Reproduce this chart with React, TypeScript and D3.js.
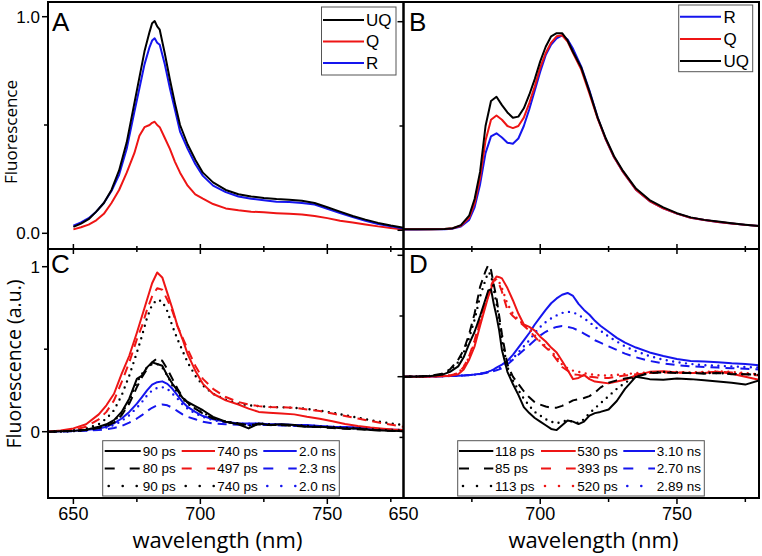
import React from "react";
import * as d3 from "d3";

// ---------- Panel A data ----------
const wlA = [650,653,656,659,662,665,668,671,674,676,678,680,681,682,683,684,686,688,690,692,695,698,701,705,710,715,720,725,730,735,740,745,750,755,760,765,770,775,780];
const aUQ = [0.03,0.045,0.065,0.1,0.14,0.2,0.29,0.42,0.6,0.72,0.84,0.93,0.97,0.98,0.955,0.94,0.83,0.71,0.6,0.5,0.41,0.34,0.28,0.235,0.2,0.18,0.17,0.163,0.158,0.155,0.15,0.14,0.12,0.1,0.08,0.063,0.048,0.036,0.026];
const aQ = [0.018,0.028,0.04,0.06,0.09,0.14,0.2,0.28,0.37,0.45,0.49,0.5,0.51,0.515,0.5,0.49,0.44,0.39,0.33,0.28,0.22,0.18,0.16,0.135,0.115,0.106,0.1,0.097,0.093,0.09,0.087,0.08,0.07,0.058,0.05,0.041,0.032,0.025,0.018];
const aR = [0.035,0.05,0.07,0.1,0.14,0.195,0.27,0.39,0.56,0.67,0.78,0.86,0.89,0.9,0.88,0.87,0.78,0.67,0.57,0.47,0.39,0.32,0.265,0.22,0.19,0.17,0.16,0.153,0.146,0.145,0.14,0.133,0.113,0.094,0.075,0.058,0.043,0.032,0.022];

// ---------- Panel B data ----------
const wlB = [650,655,660,665,668,671,674,676,678,680,682,684,686,688,690,692,694,696,698,700,702,704,706,708,710,712,715,718,721,724,727,730,735,740,745,750,755,760,765,770,775,780];
const bUQ = [0.005,0.005,0.005,0.006,0.01,0.025,0.07,0.15,0.28,0.5,0.62,0.64,0.6,0.565,0.54,0.545,0.585,0.65,0.725,0.81,0.88,0.93,0.945,0.945,0.91,0.855,0.78,0.665,0.54,0.44,0.355,0.29,0.2,0.145,0.11,0.082,0.062,0.05,0.042,0.034,0.027,0.021];
const bQ = [0.005,0.005,0.005,0.006,0.01,0.022,0.06,0.13,0.25,0.43,0.53,0.55,0.53,0.5,0.49,0.5,0.54,0.61,0.69,0.78,0.85,0.9,0.93,0.935,0.905,0.85,0.77,0.655,0.535,0.435,0.35,0.285,0.195,0.14,0.105,0.08,0.06,0.049,0.04,0.033,0.026,0.02];
const bR = [0.004,0.004,0.005,0.005,0.008,0.018,0.05,0.11,0.22,0.37,0.45,0.465,0.445,0.42,0.415,0.44,0.5,0.58,0.67,0.76,0.84,0.89,0.92,0.935,0.915,0.87,0.785,0.67,0.54,0.435,0.35,0.285,0.195,0.14,0.105,0.08,0.06,0.049,0.04,0.033,0.026,0.02];

// ---------- Panel C data ----------
const wlC = [640,645,650,655,660,663,666,669,672,675,677,679,681,683,685,687,689,691,693,695,698,701,705,710,715,719,723,727,732,737,742,747,752,757,762,767,772,776,780];
const cK1 = [0,0.002,0.005,0.012,0.03,0.045,0.07,0.12,0.2,0.32,0.34,0.39,0.42,0.41,0.4,0.34,0.29,0.25,0.205,0.18,0.155,0.13,0.09,0.06,0.045,0.02,0.05,0.04,0.045,0.04,0.03,0.03,0.025,0.02,0.02,0.01,0.008,0.005,0.003];
const cK2 = [0,0.002,0.004,0.01,0.022,0.035,0.055,0.1,0.17,0.27,0.33,0.38,0.42,0.445,0.43,0.38,0.32,0.26,0.21,0.175,0.14,0.11,0.08,0.06,0.05,0.04,0.045,0.04,0.04,0.035,0.03,0.028,0.022,0.018,0.015,0.01,0.006,0.004,0.002];
const cK3 = [0,0.002,0.004,0.01,0.025,0.04,0.065,0.11,0.19,0.3,0.35,0.39,0.41,0.41,0.39,0.34,0.28,0.24,0.2,0.17,0.14,0.115,0.085,0.06,0.05,0.035,0.05,0.045,0.04,0.04,0.035,0.03,0.028,0.024,0.02,0.015,0.01,0.008,0.006];
const cR1 = [0,0.008,0.02,0.045,0.105,0.16,0.23,0.35,0.46,0.6,0.7,0.8,0.9,0.965,0.935,0.84,0.745,0.64,0.56,0.47,0.37,0.29,0.23,0.19,0.165,0.14,0.12,0.115,0.11,0.105,0.09,0.078,0.063,0.047,0.034,0.025,0.018,0.013,0.01];
const cR2 = [0,0.005,0.012,0.03,0.075,0.12,0.19,0.3,0.42,0.56,0.64,0.74,0.82,0.87,0.86,0.8,0.73,0.64,0.57,0.5,0.4,0.32,0.26,0.21,0.18,0.165,0.155,0.15,0.148,0.145,0.135,0.125,0.11,0.095,0.08,0.065,0.05,0.04,0.03];
const cR3 = [0,0.003,0.008,0.02,0.045,0.08,0.13,0.22,0.34,0.48,0.58,0.69,0.77,0.8,0.79,0.73,0.64,0.56,0.49,0.42,0.34,0.28,0.23,0.195,0.17,0.16,0.155,0.15,0.148,0.145,0.138,0.128,0.115,0.1,0.085,0.07,0.058,0.048,0.04];
const cB1 = [0,0.002,0.005,0.01,0.02,0.03,0.05,0.08,0.12,0.17,0.21,0.25,0.285,0.3,0.305,0.29,0.26,0.22,0.18,0.15,0.12,0.095,0.075,0.06,0.05,0.05,0.05,0.045,0.045,0.04,0.04,0.035,0.03,0.028,0.025,0.02,0.015,0.012,0.01];
const cB2 = [0,0.001,0.003,0.006,0.01,0.015,0.022,0.035,0.055,0.08,0.1,0.125,0.145,0.16,0.165,0.16,0.145,0.125,0.105,0.09,0.075,0.06,0.05,0.045,0.042,0.04,0.04,0.04,0.038,0.035,0.033,0.03,0.027,0.024,0.02,0.016,0.012,0.01,0.008];
const cB3 = [0,0.002,0.004,0.008,0.016,0.025,0.04,0.065,0.1,0.145,0.18,0.22,0.25,0.265,0.27,0.26,0.23,0.2,0.165,0.14,0.11,0.09,0.07,0.058,0.05,0.048,0.048,0.045,0.043,0.04,0.038,0.034,0.03,0.027,0.024,0.02,0.015,0.012,0.01];

// ---------- Panel D data ----------
const wlD = [650,655,660,664,667,670,672,674,676,678,680,681,682,683,684,685,686,688,690,692,694,696,698,700,702,704,706,708,710,712,714,716,718,720,722,725,728,731,735,740,745,750,755,760,765,770,775,780];
const dK1 = [0,0.002,0.005,0.015,0.04,0.085,0.16,0.27,0.37,0.5,0.64,0.71,0.72,0.6,0.5,0.38,0.22,0.04,-0.06,-0.15,-0.25,-0.3,-0.34,-0.37,-0.4,-0.43,-0.44,-0.4,-0.36,-0.37,-0.39,-0.37,-0.32,-0.3,-0.29,-0.27,-0.2,-0.1,0,-0.02,-0.025,-0.015,-0.02,-0.03,-0.04,-0.05,-0.065,-0.03];
const dK2 = [0,0.002,0.008,0.025,0.06,0.14,0.22,0.35,0.52,0.74,0.87,0.92,0.88,0.76,0.65,0.5,0.35,0.1,0,-0.06,-0.12,-0.17,-0.21,-0.23,-0.245,-0.255,-0.255,-0.24,-0.22,-0.195,-0.185,-0.175,-0.16,-0.13,-0.09,-0.05,-0.03,-0.015,0,0.03,0.035,0.03,0.03,0.025,0.03,0.02,0.02,0.015];
const dK3 = [0,0.002,0.007,0.02,0.05,0.12,0.2,0.32,0.47,0.66,0.8,0.86,0.84,0.72,0.6,0.46,0.3,0.08,-0.03,-0.11,-0.18,-0.24,-0.29,-0.32,-0.35,-0.37,-0.385,-0.37,-0.36,-0.37,-0.38,-0.35,-0.3,-0.26,-0.22,-0.16,-0.1,-0.05,0,0.035,0.04,0.035,0.03,0.03,0.03,0.025,0.02,0.02];
const dR1 = [0,0,0.002,0.004,0.008,0.02,0.06,0.14,0.25,0.42,0.58,0.66,0.72,0.79,0.825,0.82,0.81,0.73,0.63,0.52,0.43,0.41,0.38,0.33,0.29,0.24,0.2,0.13,0.055,-0.02,-0.01,0.015,-0.02,-0.04,-0.045,-0.055,-0.04,-0.025,0.01,0.04,0.045,0.035,0.03,0.03,0.04,0.025,0,-0.025];
const dR2 = [0,0,0.002,0.005,0.01,0.03,0.08,0.17,0.3,0.47,0.62,0.7,0.75,0.8,0.8,0.76,0.7,0.55,0.5,0.46,0.42,0.38,0.33,0.28,0.24,0.2,0.14,0.08,0.05,0.02,0.015,0.005,0,-0.005,-0.01,-0.01,0,0.01,0.02,0.03,0.035,0.035,0.03,0.035,0.04,0.035,0.02,0.01];
const dR3 = [0,0,0.002,0.005,0.01,0.03,0.08,0.16,0.28,0.45,0.6,0.68,0.74,0.79,0.8,0.78,0.73,0.6,0.52,0.47,0.43,0.39,0.34,0.29,0.25,0.21,0.16,0.1,0.07,0.05,0.04,0.03,0.02,0.015,0.01,0.01,0.015,0.02,0.03,0.035,0.04,0.04,0.035,0.04,0.045,0.04,0.03,0.02];
const dB1 = [0,0,0.002,0.004,0.006,0.008,0.01,0.013,0.018,0.025,0.035,0.042,0.05,0.06,0.075,0.088,0.1,0.13,0.18,0.24,0.3,0.36,0.43,0.49,0.55,0.605,0.645,0.675,0.69,0.665,0.6,0.55,0.51,0.46,0.42,0.37,0.32,0.28,0.24,0.2,0.17,0.145,0.13,0.125,0.12,0.11,0.105,0.095];
const dB2 = [0,0,0.002,0.004,0.006,0.008,0.01,0.013,0.017,0.022,0.03,0.035,0.04,0.046,0.053,0.06,0.07,0.1,0.14,0.18,0.22,0.26,0.3,0.34,0.37,0.395,0.41,0.418,0.41,0.4,0.38,0.355,0.33,0.3,0.28,0.25,0.22,0.19,0.16,0.13,0.11,0.095,0.085,0.08,0.075,0.07,0.065,0.06];
const dB3 = [0,0,0.002,0.004,0.006,0.008,0.01,0.013,0.017,0.023,0.032,0.038,0.045,0.052,0.06,0.07,0.08,0.11,0.15,0.2,0.25,0.3,0.36,0.41,0.45,0.48,0.505,0.525,0.535,0.53,0.51,0.48,0.45,0.41,0.38,0.33,0.29,0.25,0.21,0.17,0.14,0.12,0.105,0.095,0.09,0.085,0.08,0.075];

// ---------- labels ----------
const legendA = ["UQ", "Q", "R"];
const legendB = ["R", "Q", "UQ"];
const legendC = [["90 ps", "740 ps", "2.0 ns"], ["80 ps", "497 ps", "2.3 ns"], ["90 ps", "740 ps", "2.0 ns"]];
const legendD = [["118 ps", "530 ps", "3.10 ns"], ["85 ps", "393 ps", "2.70 ns"], ["113 ps", "520 ps", "2.89 ns"]];
const xTickLabels = [650, 700, 750];
const xMinorTicks = [675, 725, 775];

const BLACK = "#000000";
const RED = "#ee1515";
const BLUE = "#1515ee";

// layout
const L = 48, M = 403.5, R = 759, T = 2, MY = 249, BOT = 498;

const xAC = d3.scaleLinear().domain([640, 780]).range([L, M]);
const xBD = d3.scaleLinear().domain([650, 780]).range([M, R]);
const yA = d3.scaleLinear().domain([0, 1]).range([233.3, 16.7]);
const yB = d3.scaleLinear().domain([0, 1]).range([230.3, 21.7]);
const yC = d3.scaleLinear().domain([0, 1]).range([431.7, 266.7]);
const yD = d3.scaleLinear().domain([0, 1]).range([376.7, 255.3]);

type Dash = "solid" | "dash" | "dot";
const dashArr = (d: Dash) => (d === "dash" ? "9 6" : d === "dot" ? "0 6.5" : undefined);
const legDash = (d: Dash) => (d === "dash" ? "10 15" : d === "dot" ? "0 14" : undefined);

function Curve({ xs, ys, sx, sy, color, dash, clip }: any) {
  const gen = d3.line<number>().x((_, i) => sx(xs[i])).y((v) => sy(v));
  return (
    <path d={gen(ys) || ""} fill="none" stroke={color} strokeWidth={dash === "dot" ? 2.4 : 2}
      strokeDasharray={dashArr(dash)} strokeLinecap={dash === "dot" ? "round" : "butt"}
      strokeLinejoin="round" clipPath={`url(#${clip})`} />
  );
}

const tickFont = "'Liberation Sans', Arial, sans-serif";
const titleFont = "'Open Sans', 'Noto Sans', sans-serif";

export default function App() {
  const colors = [BLACK, RED, BLUE];
  const dashes: Dash[] = ["solid", "dash", "dot"];
  const cSeries = [[cK1, cR1, cB1], [cK2, cR2, cB2], [cK3, cR3, cB3]];
  const cColors = [[BLACK, RED, BLUE], [BLACK, RED, BLUE], [BLACK, BLACK, BLUE]];
  const dSeries = [[dK1, dR1, dB1], [dK2, dR2, dB2], [dK3, dR3, dB3]];

  const legCx = [[104.7, 140.7, 142.7], [181.7, 215, 217.3], [263.3, 296.7, 299]];
  const legDx = [[459, 493.3, 495], [541, 575.7, 577.3], [623.3, 655, 656.7]];
  const legRows = [451, 468.5, 486];

  const yTicks = (sy: any, x: number, vals: number[], major: number[]) =>
    vals.map((v) => (
      <line key={`yt${x}${v}`} x1={x - (major.includes(v) ? 6 : 4)} x2={x} y1={sy(v)} y2={sy(v)} stroke="#000" strokeWidth={1.5} />
    ));

  return (
    <svg width={762} height={556} style={{ position: "absolute", left: 0, top: 0, background: "#fff" }}
      fontFamily={tickFont}>
      <defs>
        <clipPath id="clipA"><rect x={L} y={T} width={M - L} height={MY - T} /></clipPath>
        <clipPath id="clipB"><rect x={M} y={T} width={R - M} height={MY - T} /></clipPath>
        <clipPath id="clipC"><rect x={L} y={MY} width={M - L} height={BOT - MY} /></clipPath>
        <clipPath id="clipD"><rect x={M} y={MY} width={R - M} height={BOT - MY} /></clipPath>
      </defs>
      <rect x={0} y={0} width={762} height={556} fill="#fff" />

      {/* Panel A curves */}
      <Curve xs={wlA} ys={aQ} sx={xAC} sy={yA} color={RED} dash="solid" clip="clipA" />
      <Curve xs={wlA} ys={aR} sx={xAC} sy={yA} color={BLUE} dash="solid" clip="clipA" />
      <Curve xs={wlA} ys={aUQ} sx={xAC} sy={yA} color={BLACK} dash="solid" clip="clipA" />

      {/* Panel B curves */}
      <Curve xs={wlB} ys={bR} sx={xBD} sy={yB} color={BLUE} dash="solid" clip="clipB" />
      <Curve xs={wlB} ys={bQ} sx={xBD} sy={yB} color={RED} dash="solid" clip="clipB" />
      <Curve xs={wlB} ys={bUQ} sx={xBD} sy={yB} color={BLACK} dash="solid" clip="clipB" />

      {/* Panel C curves */}
      {[2, 1, 0].map((col) => [2, 1, 0].map((row) => (
        <Curve key={`c${row}${col}`} xs={wlC} ys={cSeries[row][col]} sx={xAC} sy={yC}
          color={cColors[row][col]} dash={dashes[row]} clip="clipC" />
      )))}

      {/* Panel D curves */}
      {[2, 1, 0].map((col) => [2, 1, 0].map((row) => (
        <Curve key={`d${row}${col}`} xs={wlD} ys={dSeries[row][col]} sx={xBD} sy={yD}
          color={colors[col]} dash={dashes[row]} clip="clipD" />
      )))}

      {/* Frames */}
      <g fill="none" stroke="#000" strokeWidth={2}>
        <rect x={L} y={T} width={M - L} height={MY - T} />
        <rect x={M} y={T} width={R - M} height={MY - T} />
        <rect x={L} y={MY} width={M - L} height={BOT - MY} />
        <rect x={M} y={MY} width={R - M} height={BOT - MY} />
      </g>

      {/* x ticks on shared border and bottom */}
      {xTickLabels.map((v) => (
        <g key={`xt${v}`} stroke="#000" strokeWidth={1.5}>
          <line x1={xAC(v)} x2={xAC(v)} y1={MY - 5} y2={MY + 5} />
          <line x1={xAC(v)} x2={xAC(v)} y1={BOT} y2={BOT + 6} />
          {v > 650 && <line x1={xBD(v)} x2={xBD(v)} y1={MY - 5} y2={MY + 5} />}
          {v > 650 && <line x1={xBD(v)} x2={xBD(v)} y1={BOT} y2={BOT + 6} />}
        </g>
      ))}
      {xMinorTicks.map((v) => (
        <g key={`xm${v}`} stroke="#000" strokeWidth={1.5}>
          <line x1={xAC(v)} x2={xAC(v)} y1={MY - 3} y2={MY + 3} />
          <line x1={xAC(v)} x2={xAC(v)} y1={BOT} y2={BOT + 4} />
          <line x1={xBD(v)} x2={xBD(v)} y1={MY - 3} y2={MY + 3} />
          <line x1={xBD(v)} x2={xBD(v)} y1={BOT} y2={BOT + 4} />
        </g>
      ))}
      {/* x tick labels */}
      {xTickLabels.map((v) => (
        <g key={`xl${v}`} fontSize={18} textAnchor="middle">
          <text x={xAC(v)} y={520}>{v}</text>
          <text x={xBD(v)} y={520}>{v}</text>
        </g>
      ))}

      {/* y ticks */}
      {yTicks(yA, L, [0, 0.5, 1], [0, 1])}
      {yTicks(yB, M, [0, 0.5, 1], [0, 1])}
      {yTicks(yC, L, [0, 0.5, 1], [0, 1])}
      {yTicks(yD, M, [-0.5, 0, 0.5, 1], [0, 1])}
      <g fontSize={17} textAnchor="end">
        <text x={40} y={yA(1) + 6}>1.0</text>
        <text x={40} y={yA(0) + 6}>0.0</text>
        <text x={40} y={yC(1) + 6}>1</text>
        <text x={40} y={yC(0) + 6}>0</text>
      </g>

      {/* Panel letters */}
      <g fontSize={26}>
        <text x={52} y={31}>A</text>
        <text x={409} y={31}>B</text>
        <text x={51} y={273}>C</text>
        <text x={409} y={273}>D</text>
      </g>

      {/* Axis titles */}
      <g fontFamily={titleFont} fill="#000">
        <text transform="translate(16.5,132) rotate(-90)" fontSize={17} textAnchor="middle">Fluorescence</text>
        <text transform="translate(21,364) rotate(-90)" fontSize={19.5} textAnchor="middle">Fluorescence (a.u.)</text>
        <text x={217.5} y={548} fontSize={22} textAnchor="middle">wavelength (nm)</text>
        <text x={593.5} y={548} fontSize={22} textAnchor="middle">wavelength (nm)</text>
      </g>

      {/* Legend A */}
      <rect x={321.5} y={7} width={74.5} height={68} fill="#fff" stroke="#555" strokeWidth={1} />
      {legendA.map((lab, i) => {
        const y = 20 + i * 21.5;
        const c = [BLACK, RED, BLUE][i];
        return (
          <g key={`la${i}`}>
            <line x1={323} x2={364} y1={y} y2={y} stroke={c} strokeWidth={2} />
            <text x={366} y={y} dy="0.35em" fontSize={17}>{lab}</text>
          </g>
        );
      })}

      {/* Legend B */}
      <rect x={678.7} y={5} width={74} height={66.7} fill="#fff" stroke="#555" strokeWidth={1} />
      {legendB.map((lab, i) => {
        const y = 16.7 + i * 22.2;
        const c = [BLUE, RED, BLACK][i];
        return (
          <g key={`lb${i}`}>
            <line x1={680} x2={721} y1={y} y2={y} stroke={c} strokeWidth={2} />
            <text x={723.5} y={y} dy="0.35em" fontSize={17}>{lab}</text>
          </g>
        );
      })}

      {/* Legend C */}
      <rect x={102.7} y={440.7} width={236.6} height={55.3} fill="#fff" stroke="#555" strokeWidth={1} />
      {legendC.map((row, r) => row.map((lab, c) => (
        <g key={`lc${r}${c}`}>
          <line x1={legCx[c][0]} x2={legCx[c][1]} y1={legRows[r]} y2={legRows[r]} stroke={cColors[r][c]}
            strokeWidth={dashes[r] === "dot" ? 2.6 : 2} strokeDasharray={legDash(dashes[r])}
            strokeDashoffset={dashes[r] === "dot" ? -4 : 0}
            strokeLinecap={dashes[r] === "dot" ? "round" : "butt"} />
          <text x={legCx[c][2]} y={legRows[r]} dy="0.35em" fontSize={13.5}>{lab}</text>
        </g>
      )))}

      {/* Legend D */}
      <rect x={457.7} y={440.7} width={246.6} height={55.3} fill="#fff" stroke="#555" strokeWidth={1} />
      {legendD.map((row, r) => row.map((lab, c) => (
        <g key={`ld${r}${c}`}>
          <line x1={legDx[c][0]} x2={legDx[c][1]} y1={legRows[r]} y2={legRows[r]} stroke={colors[c]}
            strokeWidth={dashes[r] === "dot" ? 2.6 : 2} strokeDasharray={legDash(dashes[r])}
            strokeDashoffset={dashes[r] === "dot" ? -4 : 0}
            strokeLinecap={dashes[r] === "dot" ? "round" : "butt"} />
          <text x={legDx[c][2]} y={legRows[r]} dy="0.35em" fontSize={13.5}>{lab}</text>
        </g>
      )))}
    </svg>
  );
}
